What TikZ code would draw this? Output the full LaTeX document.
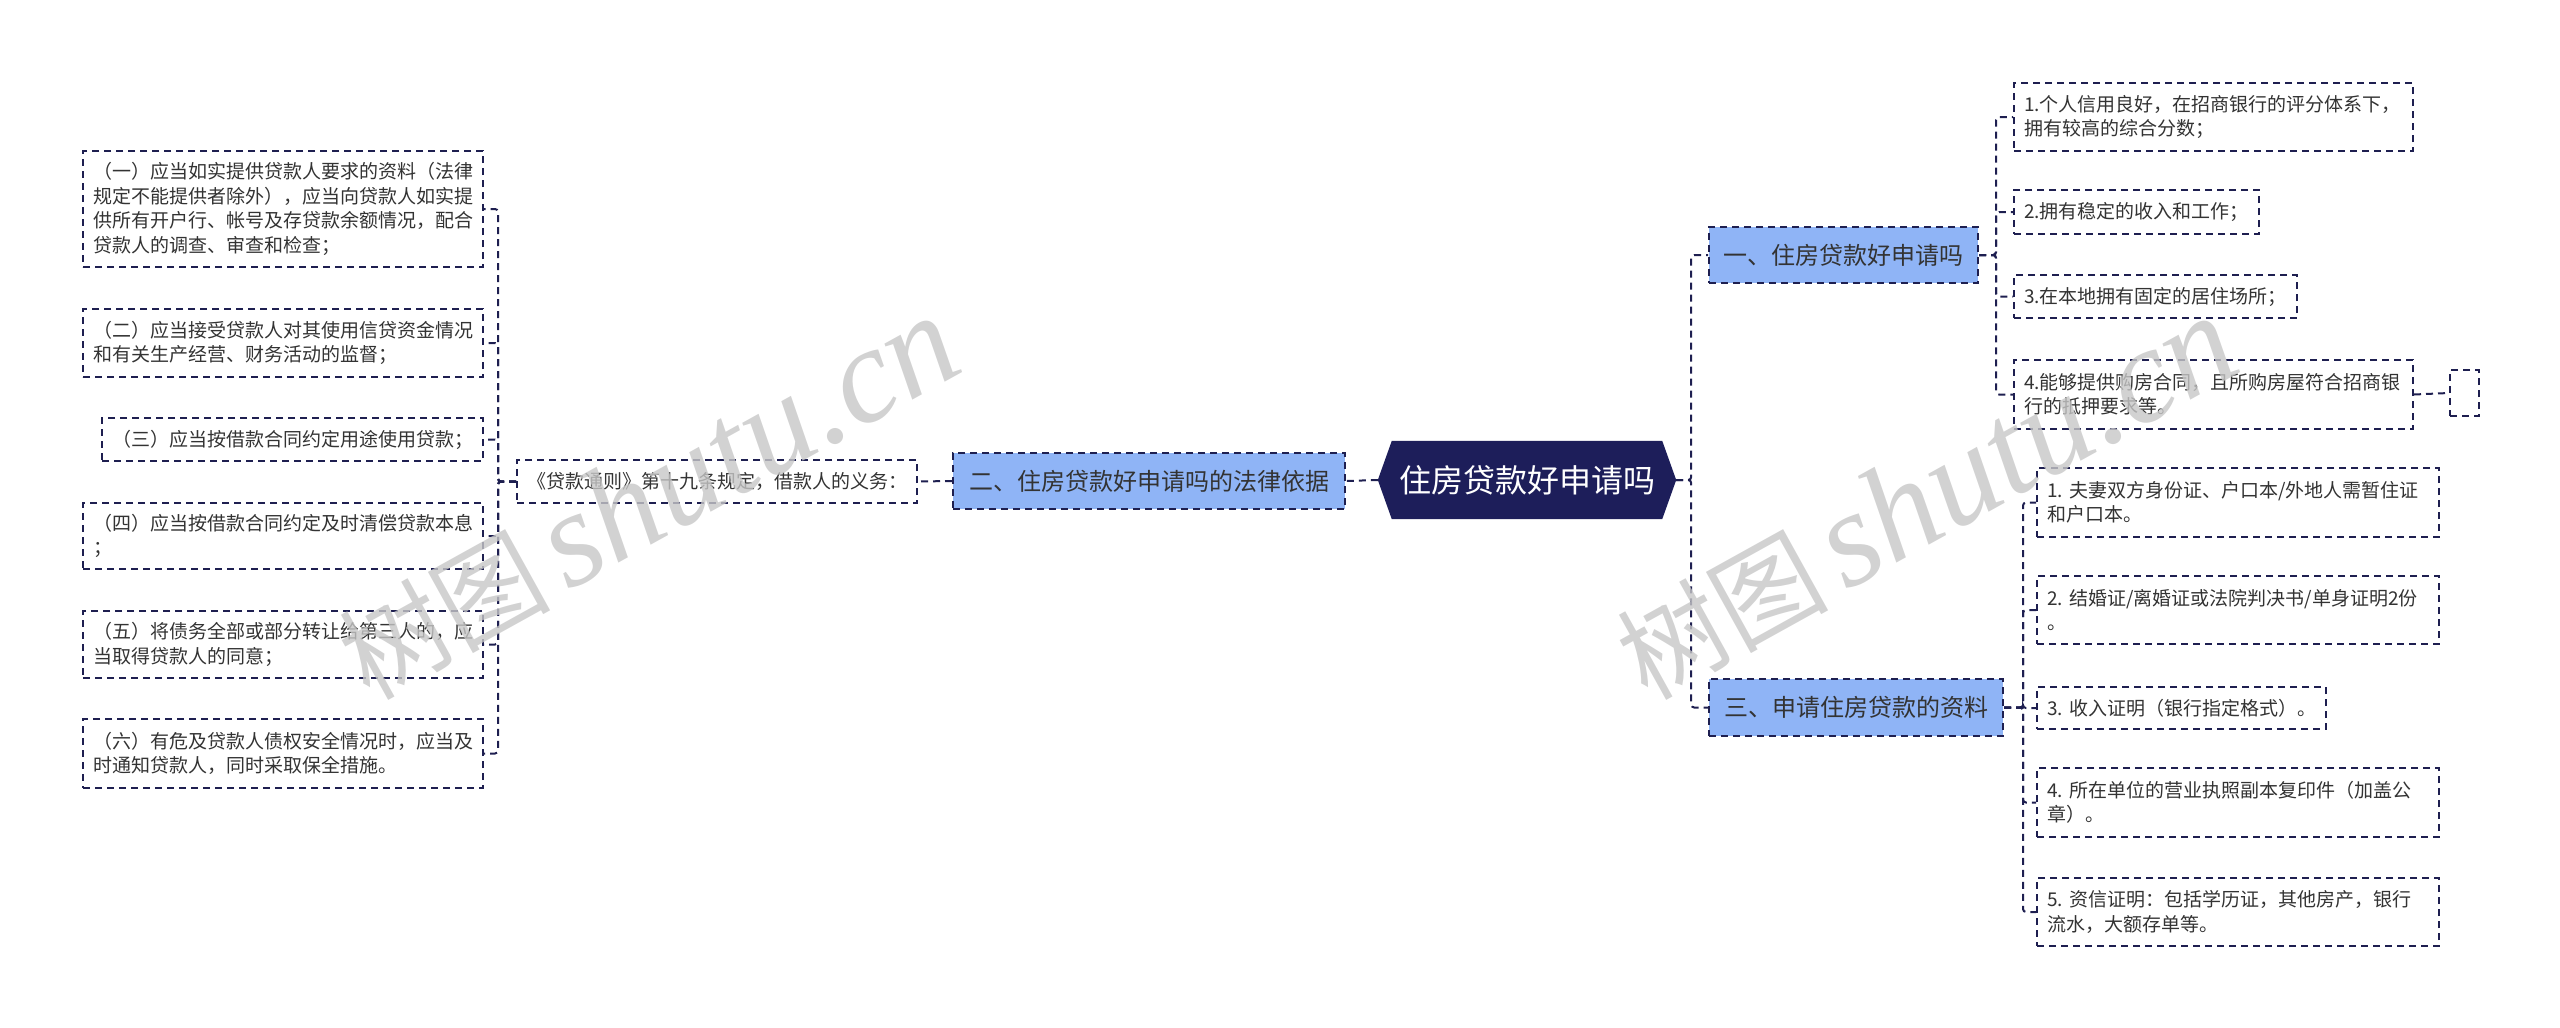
\documentclass[tikz,border=0pt]{standalone}
\usepackage{fontspec}
\setmainfont{Noto Sans CJK SC}
\newfontfamily\wmlatin{Liberation Serif Italic}
\usetikzlibrary{backgrounds}
\definecolor{navy}{HTML}{1E1F50}
\definecolor{rootfill}{HTML}{1D1E5A}
\definecolor{bluefill}{HTML}{8FB4F6}
\definecolor{txt}{HTML}{333333}
\begin{document}
\begin{tikzpicture}[x=1pt,y=-1pt,
  box/.style={draw=navy, line width=2pt, dash pattern=on 7pt off 5pt, anchor=north west, inner sep=0pt, align=left, text=txt},
  leaf/.style={box, fill=white, font=\fontsize{19}{24.5}\selectfont},
  midbox/.style={box, fill=bluefill, font=\fontsize{24}{30}\selectfont, align=center},
  conn/.style={draw=navy, line width=2pt, dash pattern=on 7pt off 5pt, rounded corners=3pt},
  wm/.style={text=black!22, opacity=0.8, rotate=29, inner sep=0pt}]
\useasboundingbox (0,0) rectangle (2560,1028);

% root
\node[font=\fontsize{32}{38}\selectfont, text=white, minimum width=298, minimum height=78, inner sep=0pt] (root) at (1527,480) {住房贷款好申请吗};
\begin{pgfonlayer}{background}
\fill[rootfill] (root.west) -- ([xshift=14pt]root.north west) -- ([xshift=-14pt]root.north east) -- (root.east) -- ([xshift=-14pt]root.south east) -- ([xshift=14pt]root.south west) -- cycle;
\end{pgfonlayer}

% main branches
\node[midbox, minimum width=392, minimum height=56] (n2) at (952,452) {二、住房贷款好申请吗的法律依据};
\node[midbox, minimum width=269, minimum height=56] (n1) at (1708,226) {一、住房贷款好申请吗};
\node[midbox, minimum width=294, minimum height=57] (n3) at (1708,678) {三、申请住房贷款的资料};

% left side
\node[leaf, minimum width=400, minimum height=43, text width=380] (law) at (516,459) {《贷款通则》第十九条规定，借款人的义务：};
\node[leaf, minimum width=400, minimum height=116, text width=380] (l1) at (82,150) {（一）应当如实提供贷款人要求的资料（法律\\规定不能提供者除外），应当向贷款人如实提\\供所有开户行、帐号及存贷款余额情况，配合\\贷款人的调查、审查和检查；};
\node[leaf, minimum width=400, minimum height=68, text width=380] (l2) at (82,308) {（二）应当接受贷款人对其使用信贷资金情况\\和有关生产经营、财务活动的监督；};
\node[leaf, minimum width=381, minimum height=43, text width=361] (l3) at (101,417) {（三）应当按借款合同约定用途使用贷款；};
\node[leaf, minimum width=400, minimum height=66, text width=380] (l4) at (82,502) {（四）应当按借款合同约定及时清偿贷款本息\\；};
\node[leaf, minimum width=400, minimum height=67, text width=380] (l5) at (82,610) {（五）将债务全部或部分转让给第三人的，应\\当取得贷款人的同意；};
\node[leaf, minimum width=400, minimum height=69, text width=380] (l6) at (82,718) {（六）有危及贷款人债权安全情况时，应当及\\时通知贷款人，同时采取保全措施。};

% right side, branch one
\node[leaf, minimum width=399, minimum height=68, text width=379] (a1) at (2013,82) {1.个人信用良好，在招商银行的评分体系下，\\拥有较高的综合分数；};
\node[leaf, minimum width=245, minimum height=44, text width=225] (a2) at (2013,189) {2.拥有稳定的收入和工作；};
\node[leaf, minimum width=283, minimum height=43, text width=263] (a3) at (2013,274) {3.在本地拥有固定的居住场所；};
\node[leaf, minimum width=399, minimum height=69, text width=379] (a4) at (2013,359) {4.能够提供购房合同，且所购房屋符合招商银\\行的抵押要求等。};
\node[leaf, minimum width=29, minimum height=46] (a5) at (2449,369) {};

% right side, branch three
\node[leaf, minimum width=402, minimum height=69, text width=382] (c1) at (2036,467) {1.~夫妻双方身份证、户口本/外地人需暂住证\\和户口本。};
\node[leaf, minimum width=402, minimum height=68, text width=382] (c2) at (2036,575) {2.~结婚证/离婚证或法院判决书/单身证明2份\\。};
\node[leaf, minimum width=289, minimum height=42, text width=269] (c3) at (2036,686) {3.~收入证明（银行指定格式）。};
\node[leaf, minimum width=402, minimum height=69, text width=382] (c4) at (2036,767) {4.~所在单位的营业执照副本复印件（加盖公\\章）。};
\node[leaf, minimum width=402, minimum height=68, text width=382] (c5) at (2036,877) {5.~资信证明：包括学历证，其他房产，银行\\流水，大额存单等。};

% connectors
\draw[conn] (root.west) -- (n2.east);
\draw[conn] (n2.west) -- (law.east);
\foreach \c in {l1,l2,l3,l4,l5,l6} \draw[conn] (law.west) -- ++(-18,0) |- (\c.east);
\foreach \c in {n1,n3} \draw[conn] (root.east) -- ++(15,0) |- (\c.west);
\foreach \c in {a1,a2,a3,a4} \draw[conn] (n1.east) -- ++(17,0) |- (\c.west);
\draw[conn] (a4.east) -- (a5.west);
\foreach \c in {c1,c2,c3,c4,c5} \draw[conn] (n3.east) -- ++(19,0) |- (\c.west);

% watermarks
\node[wm] (wm1) at (648,498) {{\fontsize{106}{106}\selectfont 树图}\hspace{16pt}{\wmlatin\fontsize{136}{136}\selectfont shutu.cn}};
\node[wm] (wm2) at (1926,498) {{\fontsize{106}{106}\selectfont 树图}\hspace{16pt}{\wmlatin\fontsize{136}{136}\selectfont shutu.cn}};
\end{tikzpicture}
\end{document}
